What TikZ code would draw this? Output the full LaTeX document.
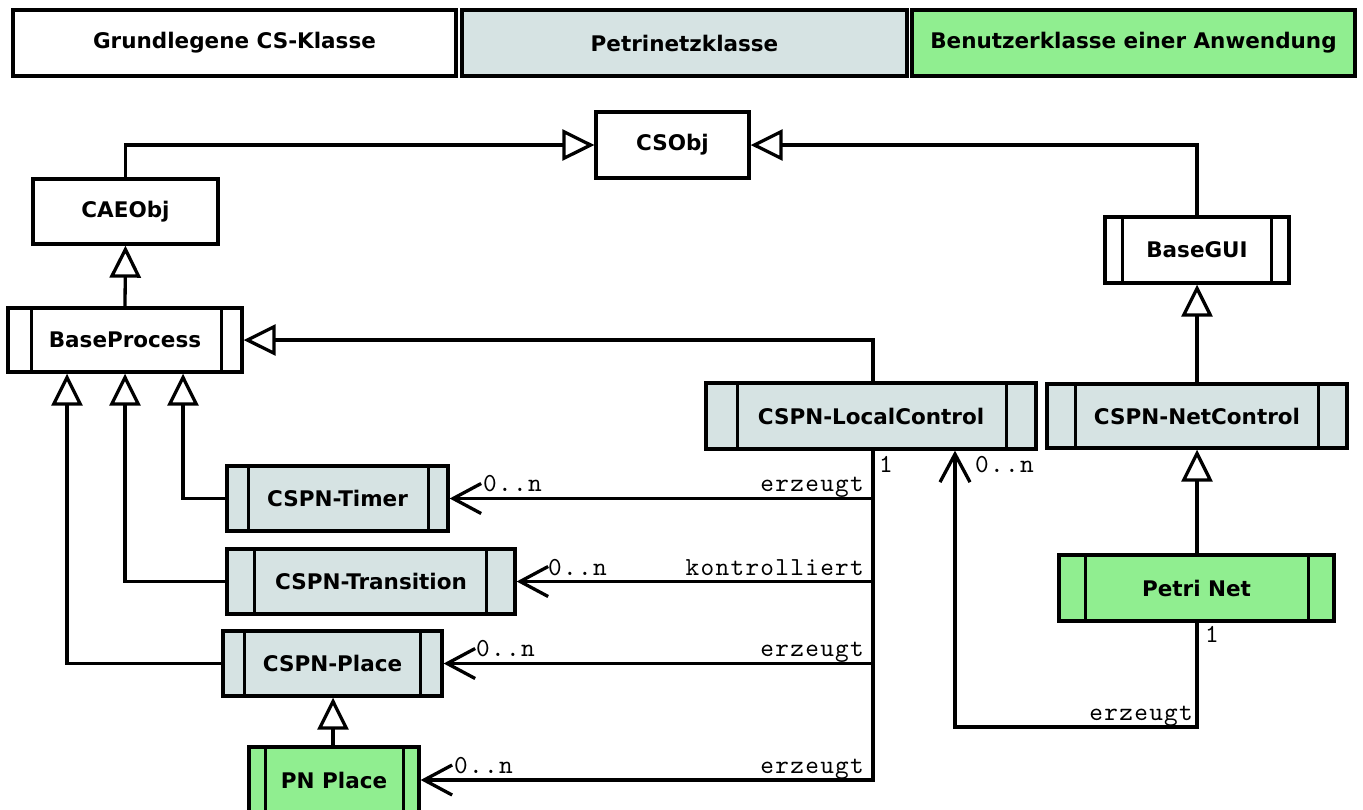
\documentclass[tikz,border=0pt]{standalone}
\usepackage{fontspec}
\setmainfont{DejaVu Sans}
\newfontfamily\monofont{lmmono10-regular.otf}[LetterSpace=5]
\usetikzlibrary{arrows.meta}

\definecolor{pngray}{RGB}{214,227,227}
\definecolor{usergreen}{RGB}{144,238,144}

\tikzset{
  cls/.style={draw=black, line width=3.3pt, inner sep=0pt, align=center,
    font=\fontsize{21.5}{26}\selectfont\bfseries},
  core/.style={cls, fill=white},
  pnet/.style={cls, fill=pngray},
  user/.style={cls, fill=usergreen},
  bar/.style={line width=3.3pt},
  inh/.style={line width=3.3pt, -{Triangle[open, length=32pt, width=31pt, line width=3.3pt]}},
  assoc/.style={line width=3.3pt, -{Straight Barb[length=28pt, width=30pt, line width=3.3pt]}},
  mult/.style={inner sep=0pt, font=\fontsize{26}{29}\selectfont\monofont},
}

\begin{document}
\begin{tikzpicture}[x=1pt, y=-1pt]
\clip (0,0) rectangle (1363,809);
\fill[white] (0,0) rectangle (1363,809);

% legend
\node[core, minimum width=443, minimum height=66] (legcore) at (234.5,43) {Grundlegene CS-Klasse};
\node[pnet, minimum width=445, minimum height=66] (legpn) at (684.5,43) {Petrinetzklasse};
\node[user, minimum width=443, minimum height=66] (leguser) at (1133.5,43) {Benutzerklasse einer Anwendung};

% classes
\node[core, minimum width=153, minimum height=66] (cso) at (672.5,145) {CSObj};
\node[core, minimum width=185, minimum height=65] (cae) at (125.5,211.5) {CAEObj};
\node[core, minimum width=234, minimum height=64] (bp) at (125,340) {BaseProcess};
\node[core, minimum width=184, minimum height=66] (gui) at (1197,250) {BaseGUI};
\node[pnet, minimum width=330, minimum height=66] (lc) at (871,416) {CSPN-LocalControl};
\node[pnet, minimum width=300, minimum height=64] (nc) at (1197,416) {CSPN-NetControl};
\node[pnet, minimum width=221, minimum height=65] (ti) at (337.5,498.5) {CSPN-Timer};
\node[pnet, minimum width=288, minimum height=65] (tr) at (371,581.5) {CSPN-Transition};
\node[pnet, minimum width=219, minimum height=65] (pl) at (332.5,663.5) {CSPN-Place};
\node[user, minimum width=170, minimum height=66] (pn) at (334,780) {PN Place};
\node[user, minimum width=275, minimum height=66] (pet) at (1196.5,588) {Petri Net};

% side bars of the active classes
\foreach \n/\a/\b in {bp/25/22, gui/19/19, lc/33/31, nc/30/30, ti/23/21,
                      tr/29/30, pl/23/23, pn/18/17, pet/28/27}
  \draw[bar] ([xshift=\a]\n.north west) -- ([xshift=\a]\n.south west)
             ([xshift=-\b]\n.north east) -- ([xshift=-\b]\n.south east);

% inheritance
\draw[inh] (cae.north) |- (cso.west);
\draw[inh] (gui.north) |- (cso.east);
\draw[inh] (bp.north) -- (cae.south);
\draw[inh] ([xshift=2]lc.north) |- (bp.east);
\draw[inh] (nc.north) -- (gui.south);
\draw[inh] ([xshift=0.5]pet.north) -- ([xshift=0.5]pet.north |- nc.south);
\draw[inh] (ti.west) -| ([xshift=58]bp.south);
\draw[inh] (tr.west) -| (bp.south);
\draw[inh] (pl.west) -| ([xshift=-58]bp.south);
\draw[inh] ([xshift=-1]pn.north) -- ([xshift=-1]pn.north |- pl.south);

% associations
\coordinate (trunk) at ([xshift=2]lc.south);
\draw[assoc] (trunk) |- (ti.east);
\draw[assoc] (trunk) |- (tr.east);
\draw[assoc] (trunk) |- (pl.east);
\draw[assoc] (trunk) |- (pn.east);
\coordinate (netbend) at ([xshift=0.5]pet.south |- 0,727);
\coordinate (lcin) at ([xshift=84]lc.south);
\draw[assoc] ([xshift=0.5]pet.south) -- (netbend) -| (lcin);

% multiplicities and roles
\node[mult, anchor=base west] (m1) at (879,472) {1};
\node[mult, anchor=base west] (m2) at (975,472) {0..n};
\node[mult, anchor=base west] (m3) at (483,491) {0..n};
\node[mult, anchor=base east] (r3) at (864,491) {erzeugt};
\node[mult, anchor=base west] (m4) at (548,575) {0..n};
\node[mult, anchor=base east] (r4) at (864,575) {kontrolliert};
\node[mult, anchor=base west] (m5) at (476,656) {0..n};
\node[mult, anchor=base east] (r5) at (864,656) {erzeugt};
\node[mult, anchor=base west] (m6) at (454,773) {0..n};
\node[mult, anchor=base east] (r6) at (864,773) {erzeugt};
\node[mult, anchor=base west] (m7) at (1205,642) {1};
\node[mult, anchor=base east] (r7) at (1193,720) {erzeugt};
\end{tikzpicture}
\end{document}
